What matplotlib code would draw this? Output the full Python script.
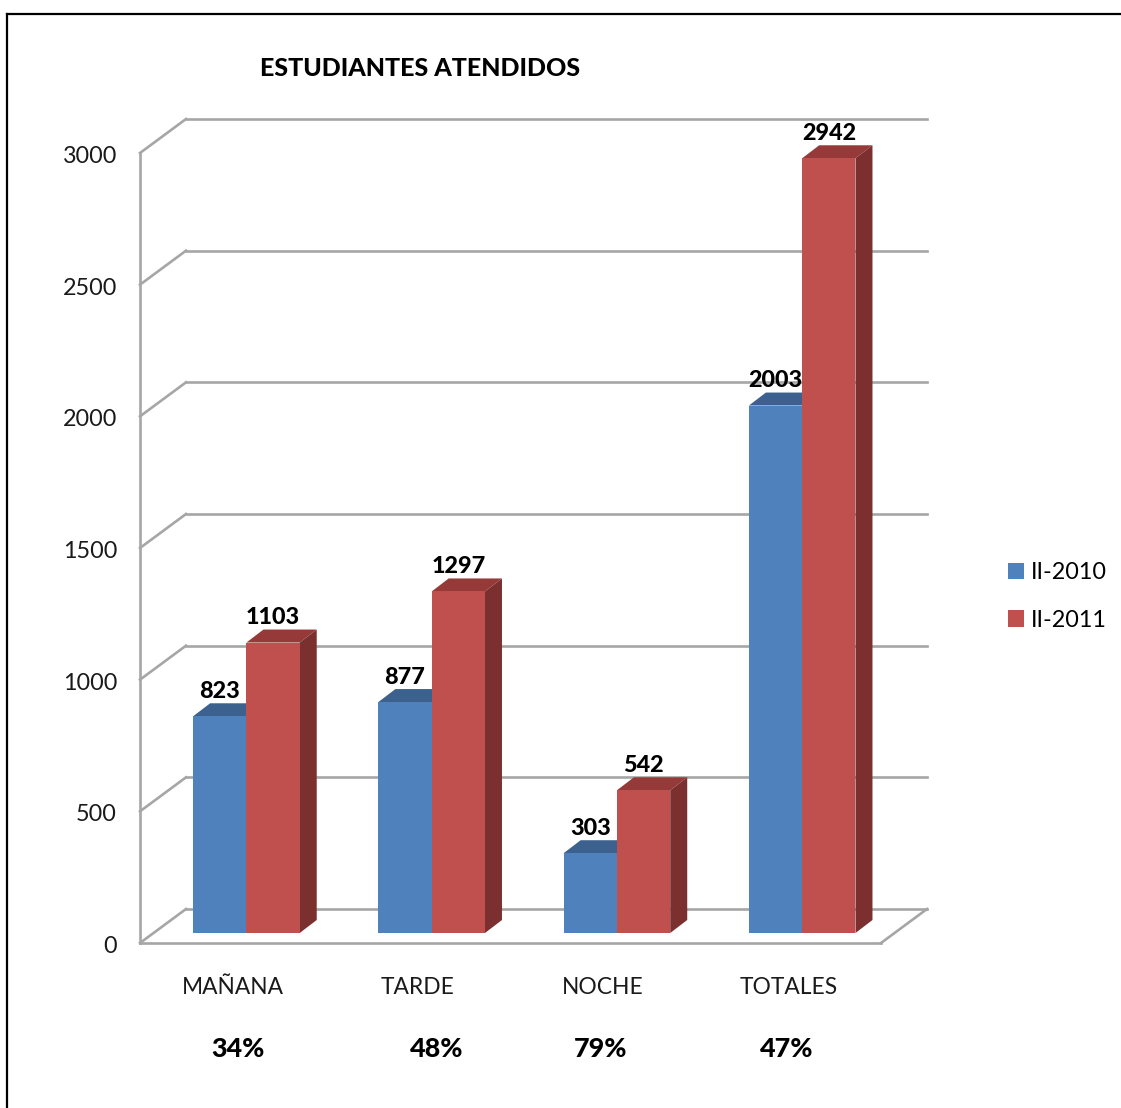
import matplotlib
matplotlib.use('Agg')
import matplotlib.pyplot as plt
from matplotlib.lines import Line2D
from matplotlib.transforms import ScaledTranslation
import numpy as np

categories = ['MAÑANA', 'TARDE', 'NOCHE', 'TOTALES']
values_2010 = [823, 877, 303, 2003]
values_2011 = [1103, 1297, 542, 2942]
percent_labels = ['34%', '48%', '79%', '47%']
yticks = [0, 500, 1000, 1500, 2000, 2500, 3000]

W, H = 1121, 1108
plt.rcParams['font.family'] = ['Lato', 'DejaVu Sans']

# pixel box of the front plane of the chart
LEFT, RIGHT, TOP, BOTTOM = 140, 881, 153, 943
PX_X = (RIGHT - LEFT) / 4.0
PX_Y = (BOTTOM - TOP) / 3000.0

GRID = '#a6a6a6'
SIZE = 16.8
BOLD = 900

fig = plt.figure(figsize=(W / 100, H / 100), dpi=100, facecolor='white')
ax = fig.add_axes([LEFT / W, 1 - BOTTOM / H, (RIGHT - LEFT) / W, (BOTTOM - TOP) / H])
ax.set_xlim(-0.5, 3.5)
ax.set_ylim(0, 3000)
ax.patch.set_alpha(0)


def dx(px):
    return px / PX_X


def dy(px):
    return px / PX_Y


# walls and floor
wall_x, wall_y = dx(46), dy(34)
for t in yticks:
    ax.plot([-0.5, -0.5 + wall_x], [t, t + wall_y], color=GRID, lw=1.9, clip_on=False, zorder=1)
    ax.plot([-0.5 + wall_x, 3.5 + wall_x], [t + wall_y, t + wall_y], color=GRID, lw=1.9, clip_on=False, zorder=1)
ax.plot([3.5, 3.5 + wall_x], [0, wall_y], color=GRID, lw=1.9, clip_on=False, zorder=1)

# bars sit a bit behind the front of the floor
bar_w = dx(53.3)
shift_x = dx(13.8)
lift = dy(10)
depth_x, depth_y = dx(17), dy(13)
x = np.arange(len(categories))


def draw_bars(xs, vals, face, top, side, zorder, label):
    bars = ax.bar(xs, vals, bar_w, bottom=lift, color=face, zorder=zorder + 0.2, clip_on=False, label=label)
    for xi, v in zip(xs, vals):
        l, r = xi - bar_w / 2, xi + bar_w / 2
        t = v + lift
        ax.fill([l, r, r + depth_x, l + depth_x], [t, t, t + depth_y, t + depth_y],
                color=top, lw=0, zorder=zorder, clip_on=False)
        ax.fill([r, r + depth_x, r + depth_x, r], [lift, lift + depth_y, t + depth_y, t],
                color=side, lw=0, zorder=zorder, clip_on=False)
        ax.text(xi, t + dy(25), str(v), ha='center', va='center', fontsize=SIZE,
                fontweight=BOLD, color='black', zorder=10)
    return bars


draw_bars(x + shift_x - bar_w / 2, values_2010, '#4f81bd', '#3c618f', '#3a5f8b', 3, 'II-2010')
draw_bars(x + shift_x + bar_w / 2, values_2011, '#c0504d', '#953a38', '#7b302f', 4, 'II-2011')

for s in ['top', 'right']:
    ax.spines[s].set_visible(False)
for s in ['left', 'bottom']:
    ax.spines[s].set_color(GRID)
    ax.spines[s].set_linewidth(1.9)

ax.set_yticks(yticks)
ax.set_xticks(x)
ax.set_xticklabels(categories)
ax.tick_params(axis='y', length=0, pad=16.5, labelsize=SIZE, labelcolor='#1a1a1a')
ax.tick_params(axis='x', length=0, pad=24.5, labelsize=SIZE - 0.4, labelcolor='#1a1a1a')
# y labels sit a little under their gridline in the original
down = ScaledTranslation(0, -1.5 / 100, fig.dpi_scale_trans)
for lab in ax.get_yticklabels():
    lab.set_transform(lab.get_transform() + down)

ax.legend(loc='center left', bbox_to_anchor=(1008 / W, 1 - 596.5 / H), bbox_transform=fig.transFigure,
          frameon=False, fontsize=SIZE, handlelength=0.68, handleheight=0.68, handletextpad=0.3,
          labelspacing=1.13, borderpad=0, borderaxespad=0)

# title and the percent row
fig.text(260 / W, 1 - 68 / H, 'ESTUDIANTES ATENDIDOS', fontsize=18, fontweight=BOLD,
         ha='left', va='center')
for px, lab in zip([238, 437, 601, 787], percent_labels):
    fig.text(px / W, 1 - 1049 / H, lab, fontsize=SIZE + 2.6, fontweight=BOLD, ha='center', va='center')

# outer frame of the slide
fig.add_artist(Line2D([7 / W, 1], [1 - 14 / H, 1 - 14 / H], color='black', lw=1.6))
fig.add_artist(Line2D([7 / W, 7 / W], [1 - 14 / H, 0], color='black', lw=1.6))

fig.savefig('out.png', dpi=100)
